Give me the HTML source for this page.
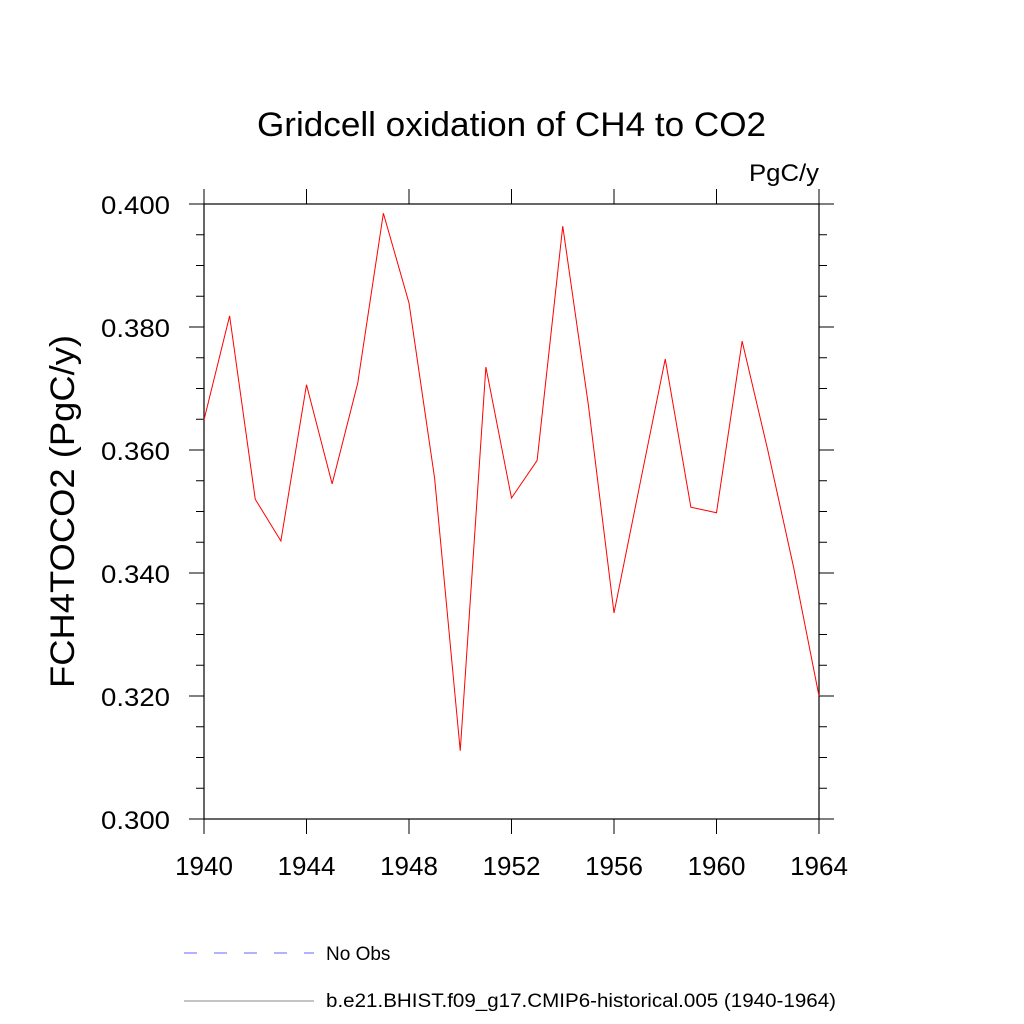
<!DOCTYPE html>
<html><head><meta charset="utf-8"><style>body{margin:0;background:#fff}svg{display:block}text{font-family:"Liberation Sans",sans-serif}</style></head>
<body>
<svg id="c" width="1024" height="1024" xmlns="http://www.w3.org/2000/svg"></svg>
<script>
const years=[1940,1941,1942,1943,1944,1945,1946,1947,1948,1949,1950,1951,1952,1953,1954,1955,1956,1957,1958,1959,1960,1961,1962,1963,1964];
const values=[0.3649,0.3818,0.3520,0.3452,0.3706,0.3545,0.3709,0.3985,0.3839,0.3554,0.3111,0.3735,0.3522,0.3583,0.3964,0.3673,0.3335,0.3542,0.3748,0.3507,0.3498,0.3777,0.3600,0.3411,0.3200];
const xTicks=[1940,1944,1948,1952,1956,1960,1964];
const yTicks=[0.300,0.320,0.340,0.360,0.380,0.400];
const L=204,R=819,T=204,B=819;
const X=v=>L+(v-1940)/24*(R-L);
const Y=v=>B-(v-0.3)/0.1*(B-T);
const svg=document.getElementById('c');const NS='http://www.w3.org/2000/svg';
function mk(t,a,p){const e=document.createElementNS(NS,t);for(const k in a)e.setAttribute(k,a[k]);(p||svg).appendChild(e);return e;}
let e;
e=mk('rect',{x:L,y:T,width:R-L,height:B-T,fill:'none',stroke:'#000','stroke-width':1.2});


const ax=mk('g',{stroke:'#000','stroke-width':1});


xTicks.forEach(v=>{const x=X(v);
mk('line',{x1:x,y1:B,x2:x,y2:B+15},ax);mk('line',{x1:x,y1:T,x2:x,y2:T-15},ax);});
for(let i=0;i<=20;i++){const v=0.3+i*0.005;const maj=i%4==0;const l=maj?15:8;const y=Y(v);
mk('line',{x1:L,y1:y,x2:L-l,y2:y},ax);mk('line',{x1:R,y1:y,x2:R+l,y2:y},ax);}
xTicks.forEach(v=>{const t=mk('text',{x:X(v),y:875,'font-size':26,'text-anchor':'middle'});t.textContent=v;

});
yTicks.forEach(v=>{const t=mk('text',{x:101,y:Y(v)+10,'font-size':25,textLength:69,lengthAdjust:'spacingAndGlyphs'});t.textContent=v.toFixed(3);

});
const pts=years.map((y,i)=>X(y)+','+Y(values[i])).join(' ');
e=mk('polyline',{points:pts,fill:'none',stroke:'#f00','stroke-width':1});


</script>
<svg style="position:absolute;left:0;top:0" width="1024" height="1024" xmlns="http://www.w3.org/2000/svg">
<text x="257" y="136" font-size="34" textLength="509" lengthAdjust="spacingAndGlyphs">Gridcell oxidation of CH4 to CO2</text>
<text x="749" y="181" font-size="24" textLength="70" lengthAdjust="spacingAndGlyphs">PgC/y</text>
<text transform="translate(74,688) rotate(-90)" font-size="34" textLength="353" lengthAdjust="spacingAndGlyphs">FCH4TOCO2  (PgC/y)</text>
<g>
<line x1="184" y1="953" x2="314" y2="953" stroke="#66f" stroke-width="1" stroke-dasharray="13,17"/>
<text x="326" y="960" font-size="19">No Obs</text>
<line x1="184" y1="1001" x2="314" y2="1001" stroke="#888" stroke-width="1"/>
<text x="326" y="1007" font-size="19" textLength="510" lengthAdjust="spacingAndGlyphs">b.e21.BHIST.f09_g17.CMIP6-historical.005 (1940-1964)</text>
</g>
</svg>
</body></html>
